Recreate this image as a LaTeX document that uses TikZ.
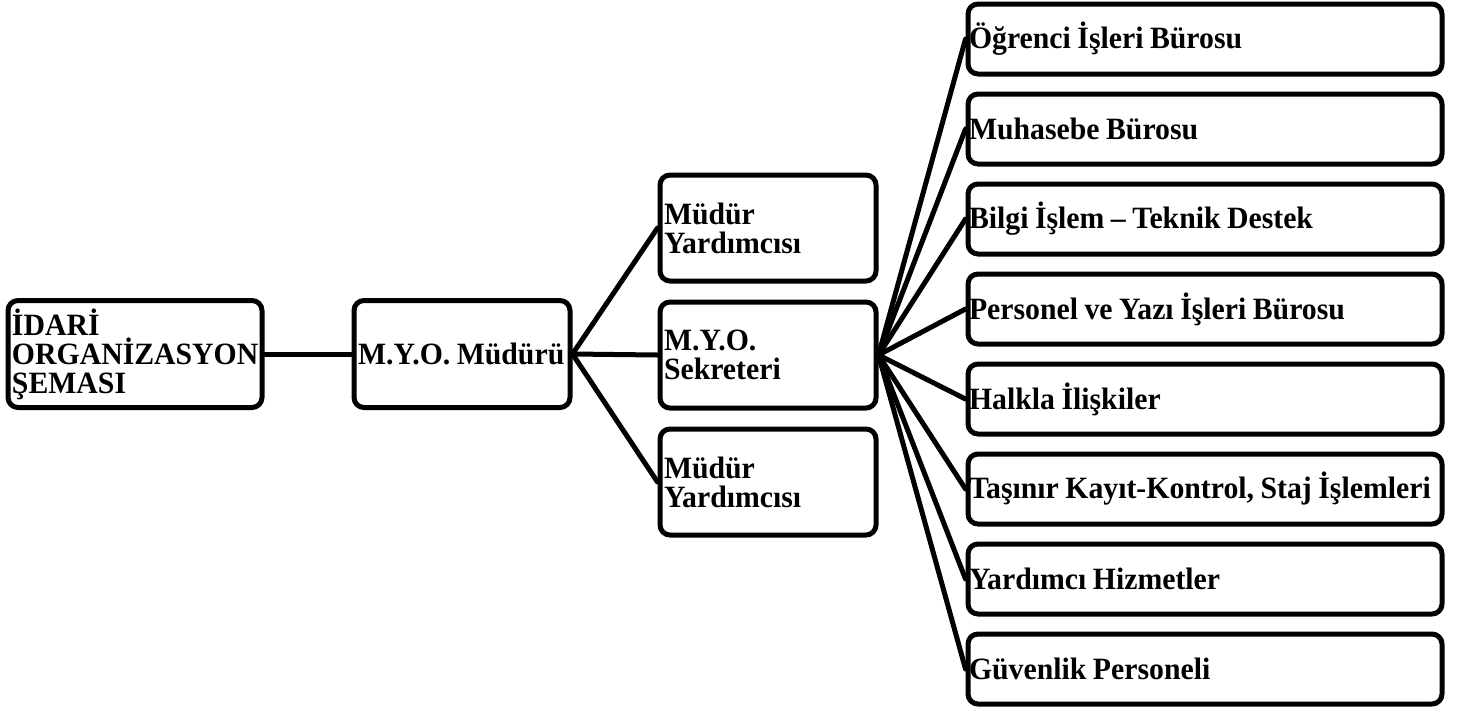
\documentclass[tikz,border=0pt]{standalone}
\usepackage{fontspec}
\setmainfont[FakeStretch=0.96]{Liberation Serif}
\newcommand\kutufont{\fontsize{31}{29}\selectfont\bfseries\spaceskip 6.5pt plus 2pt minus 1pt\relax\hyphenpenalty 10000\relax}
\begin{document}
\begin{tikzpicture}[x=1pt,y=-1pt,line cap=round,line join=round,
	kutu/.style={draw,line width=5pt,rounded corners=10pt,inner xsep=4pt,inner ysep=0pt,align=flush left,text width=#1,font=\kutufont},
	bag/.style={line width=5pt}]
	\useasboundingbox (0,0) rectangle (1458,713);
	% sol taraf
	\node[kutu=246pt,minimum height=107pt] (idari) at (135,354) {İDARİ\\ORGANİZASYON\\ŞEMASI};
	\node[kutu=208pt,minimum height=107pt] (mudur) at (462,354) {M.Y.O. Müdürü};
	% orta sutun
	\node[kutu=208pt,minimum height=106pt] (yrd1) at (768,228) {Müdür\\Yardımcısı};
	\node[kutu=208pt,minimum height=106pt] (sekreter) at (768,355) {M.Y.O.\\Sekreteri};
	\node[kutu=208pt,minimum height=106pt] (yrd2) at (768,482) {Müdür\\Yardımcısı};
	\draw[bag] (idari) -- (mudur);
	\foreach \k in {yrd1,sekreter,yrd2}
		\draw[bag] (mudur.east) -- (\k.west);
	% sag sutun
	\foreach \i/\t in {0/Öğrenci İşleri Bürosu,1/Muhasebe Bürosu,2/Bilgi İşlem – Teknik Destek,3/Personel ve Yazı İşleri Bürosu,4/Halkla İlişkiler,5/{Taşınır Kayıt-Kontrol, Staj İşlemleri},6/Yardımcı Hizmetler,7/Güvenlik Personeli}{
		\node[kutu=472pt,inner xsep=1pt,minimum height=70pt] (buro\i) at (1205,39+90*\i) {\t};
		\draw[bag] (sekreter.east) -- (buro\i.west);
	}
\end{tikzpicture}
\end{document}
